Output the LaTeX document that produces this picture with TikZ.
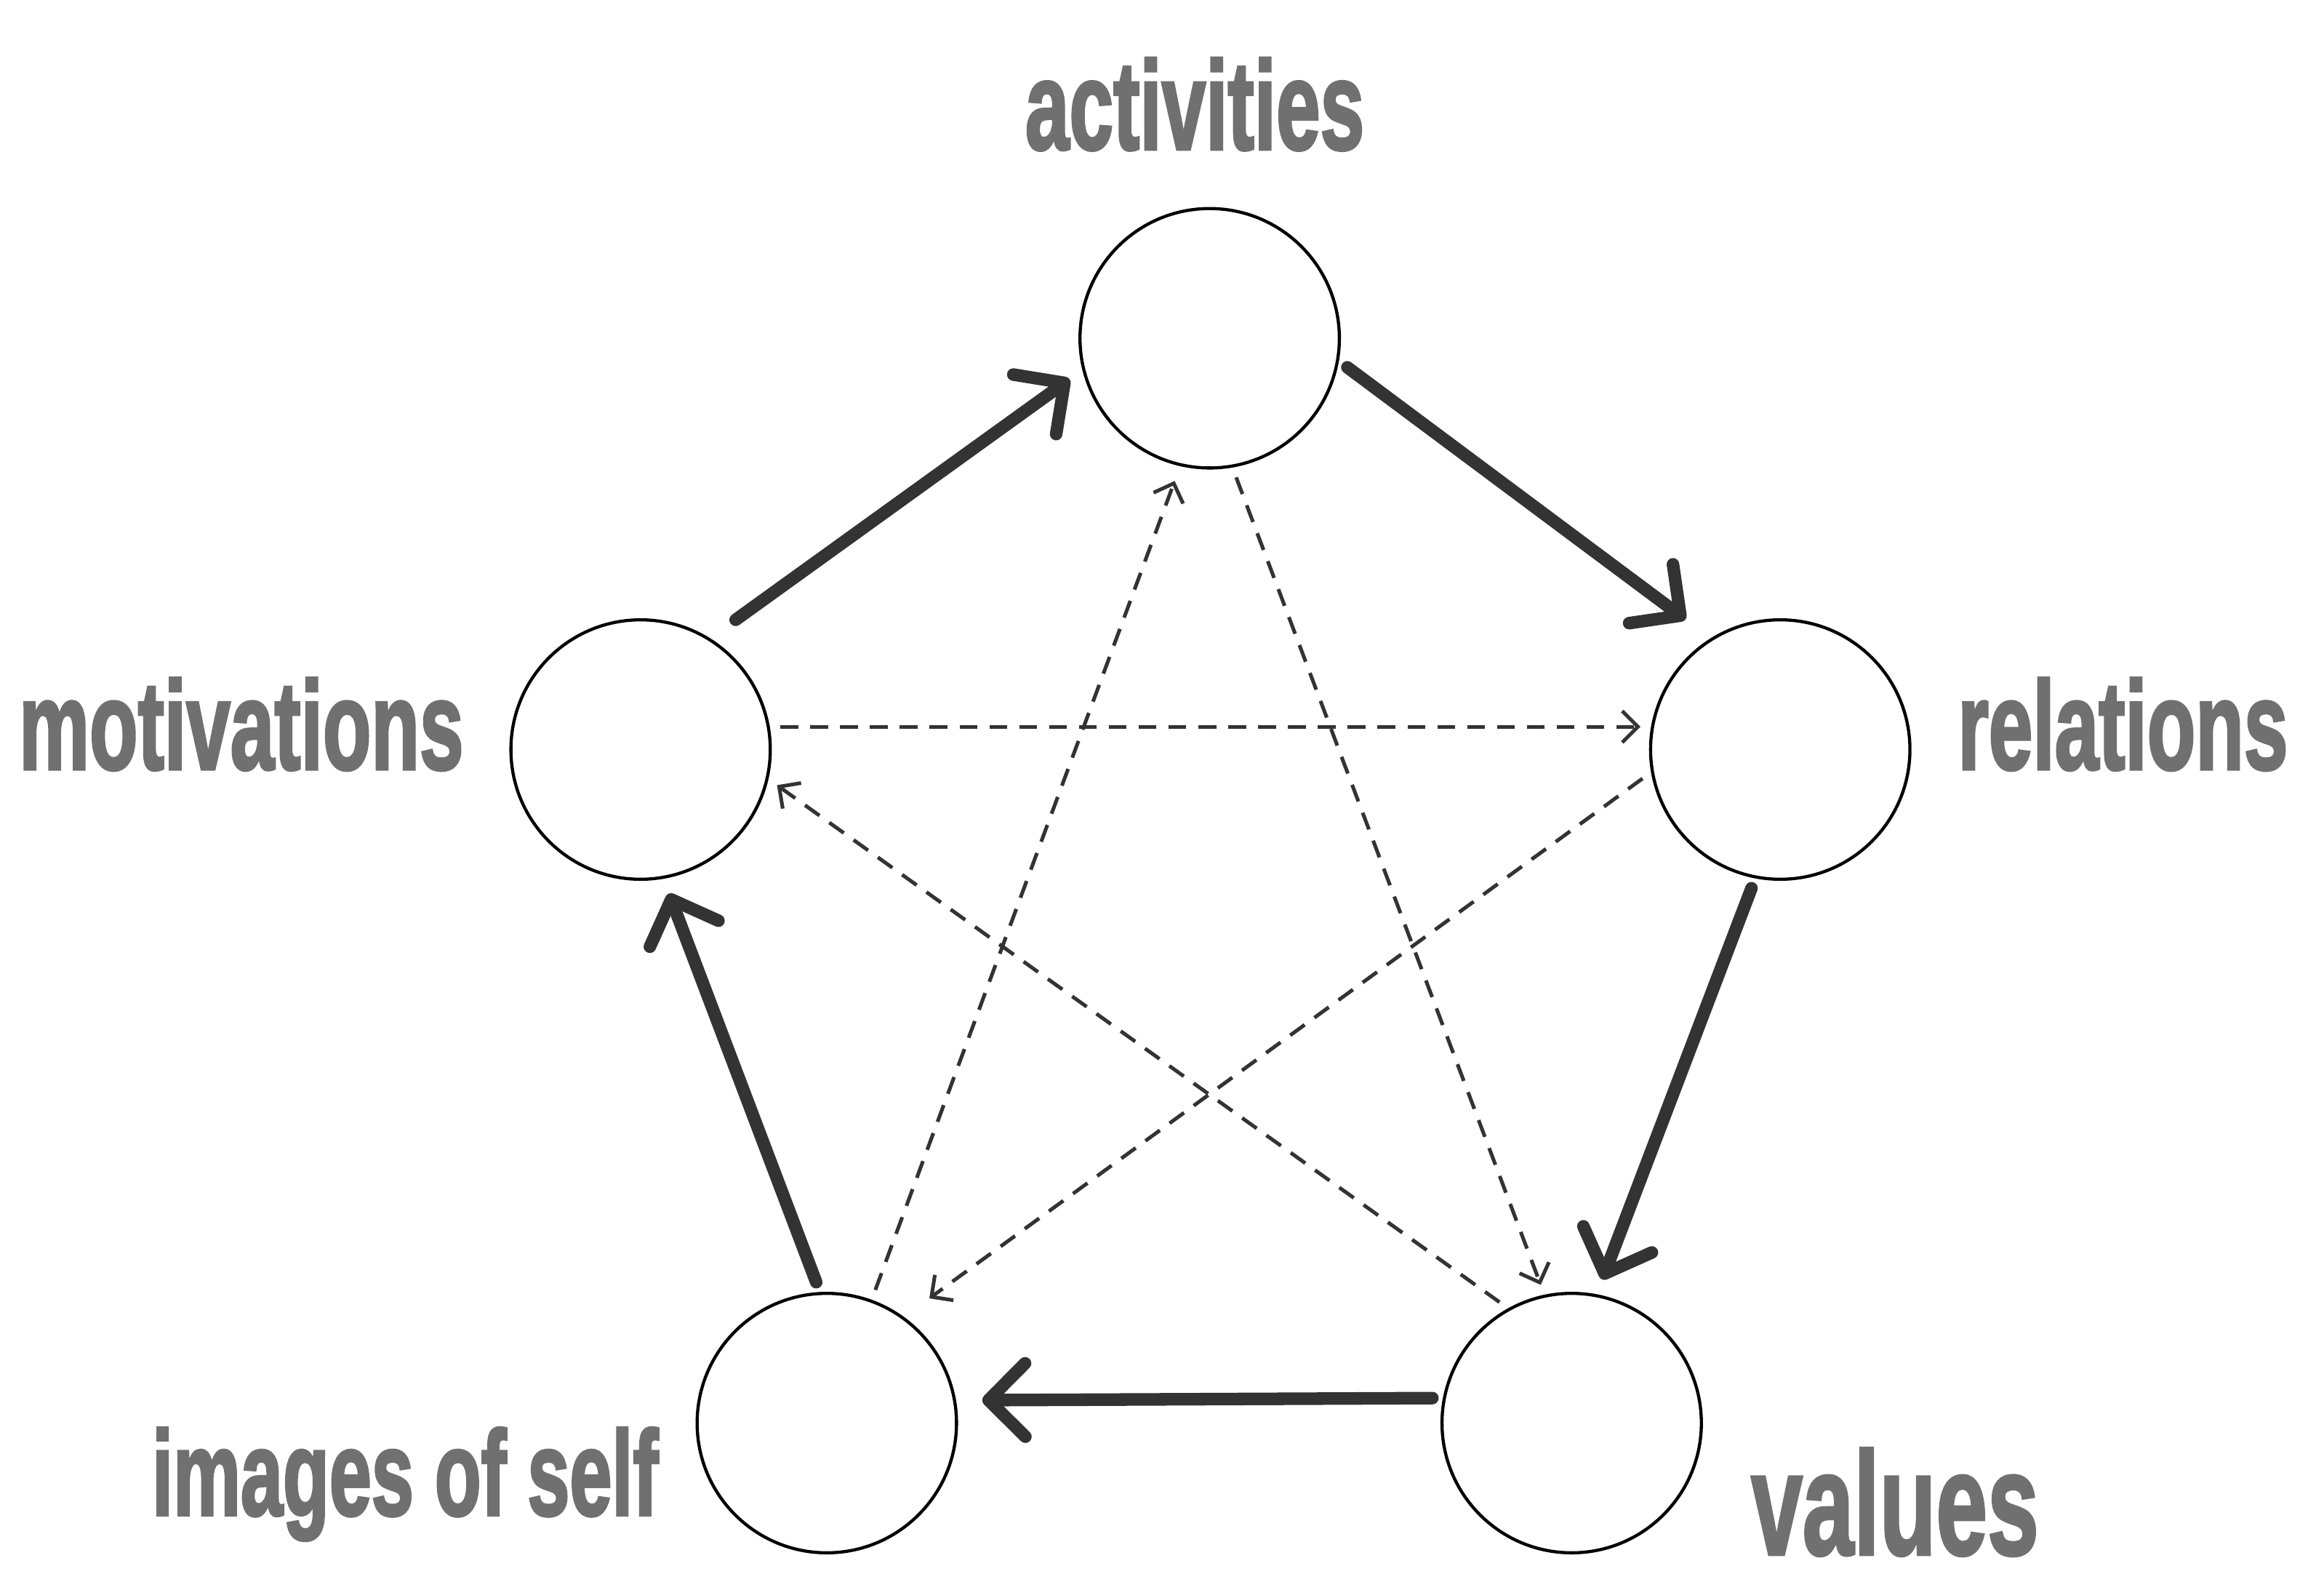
\documentclass[tikz,border=0pt]{standalone}
\usepackage{fontspec}
\setmainfont{Liberation Sans}
\usetikzlibrary{arrows.meta}
\definecolor{dk}{HTML}{333333}
\newcommand{\outl}[2]{\special{pdf:literal direct 2 Tr 0.6 w 0.12 0.12 0.12 RG}{\color[HTML]{707070}\bfseries\fontsize{#1}{#1}\selectfont\scalebox{0.63}[1]{#2}}\special{pdf:literal direct 0 Tr}}
\begin{document}
\begin{tikzpicture}[x=0.01cm,y=-0.01cm,
  circ/.style={circle,draw,line width=0.6pt,minimum size=1.74cm,inner sep=0pt},
  thick arr/.style={dk,line width=2.4pt,line cap=round,-{Straight Barb[length=7pt,width=14pt,line width=2.4pt,round]}},
  dash arr/.style={dk,line width=0.7pt,dash pattern=on 3.4pt off 2.3pt,-{Straight Barb[length=3pt,width=6pt]}},
  lab/.style={inner sep=0pt}]
\useasboundingbox (0,0) rectangle (1560,1067);
\node[circ] (act) at (812,227) {};
\node[circ] (mot) at (430,503) {};
\node[circ] (rel) at (1195,503) {};
\node[circ] (img) at (555,955) {};
\node[circ] (val) at (1055,955) {};
\draw[thick arr,shorten <=6pt,shorten >=3pt] (mot.58) -- (act.194);
\draw[thick arr,shorten <=2pt,shorten >=6pt] (act.350) -- (rel.122);
\draw[thick arr,shorten <=2pt,shorten >=3pt] (rel.259) -- (val.79);
\draw[thick arr,shorten <=2pt,shorten >=5pt] (val.169) -- (img.10);
\draw[thick arr,shorten <=2pt,shorten >=3pt] (img.93) -- (mot.280);
\draw[dash arr,shorten <=2pt,shorten >=2pt] (mot.10) -- (rel.170);
\draw[dash arr,shorten <=2pt,shorten >=6pt] (rel.190) -- (img.54);
\draw[dash arr,shorten <=2pt,shorten >=3pt] (img.70) -- (act.257);
\draw[dash arr,shorten <=2pt,shorten >=2pt] (act.280) -- (val.102);
\draw[dash arr,shorten <=2pt,shorten >=2pt] (val.119) -- (mot.347);
\node[lab] (tact) at (802,70) {\outl{24}{activities}};
\node[lab] (tmot) at (162,486) {\outl{24}{motivations}};
\node[lab] (trel) at (1425,486) {\outl{24}{relations}};
\node[lab] (timg) at (272,996) {\outl{23}{images of self}};
\node[lab] (tval) at (1272,1008) {\outl{28}{values}};
\end{tikzpicture}
\end{document}
